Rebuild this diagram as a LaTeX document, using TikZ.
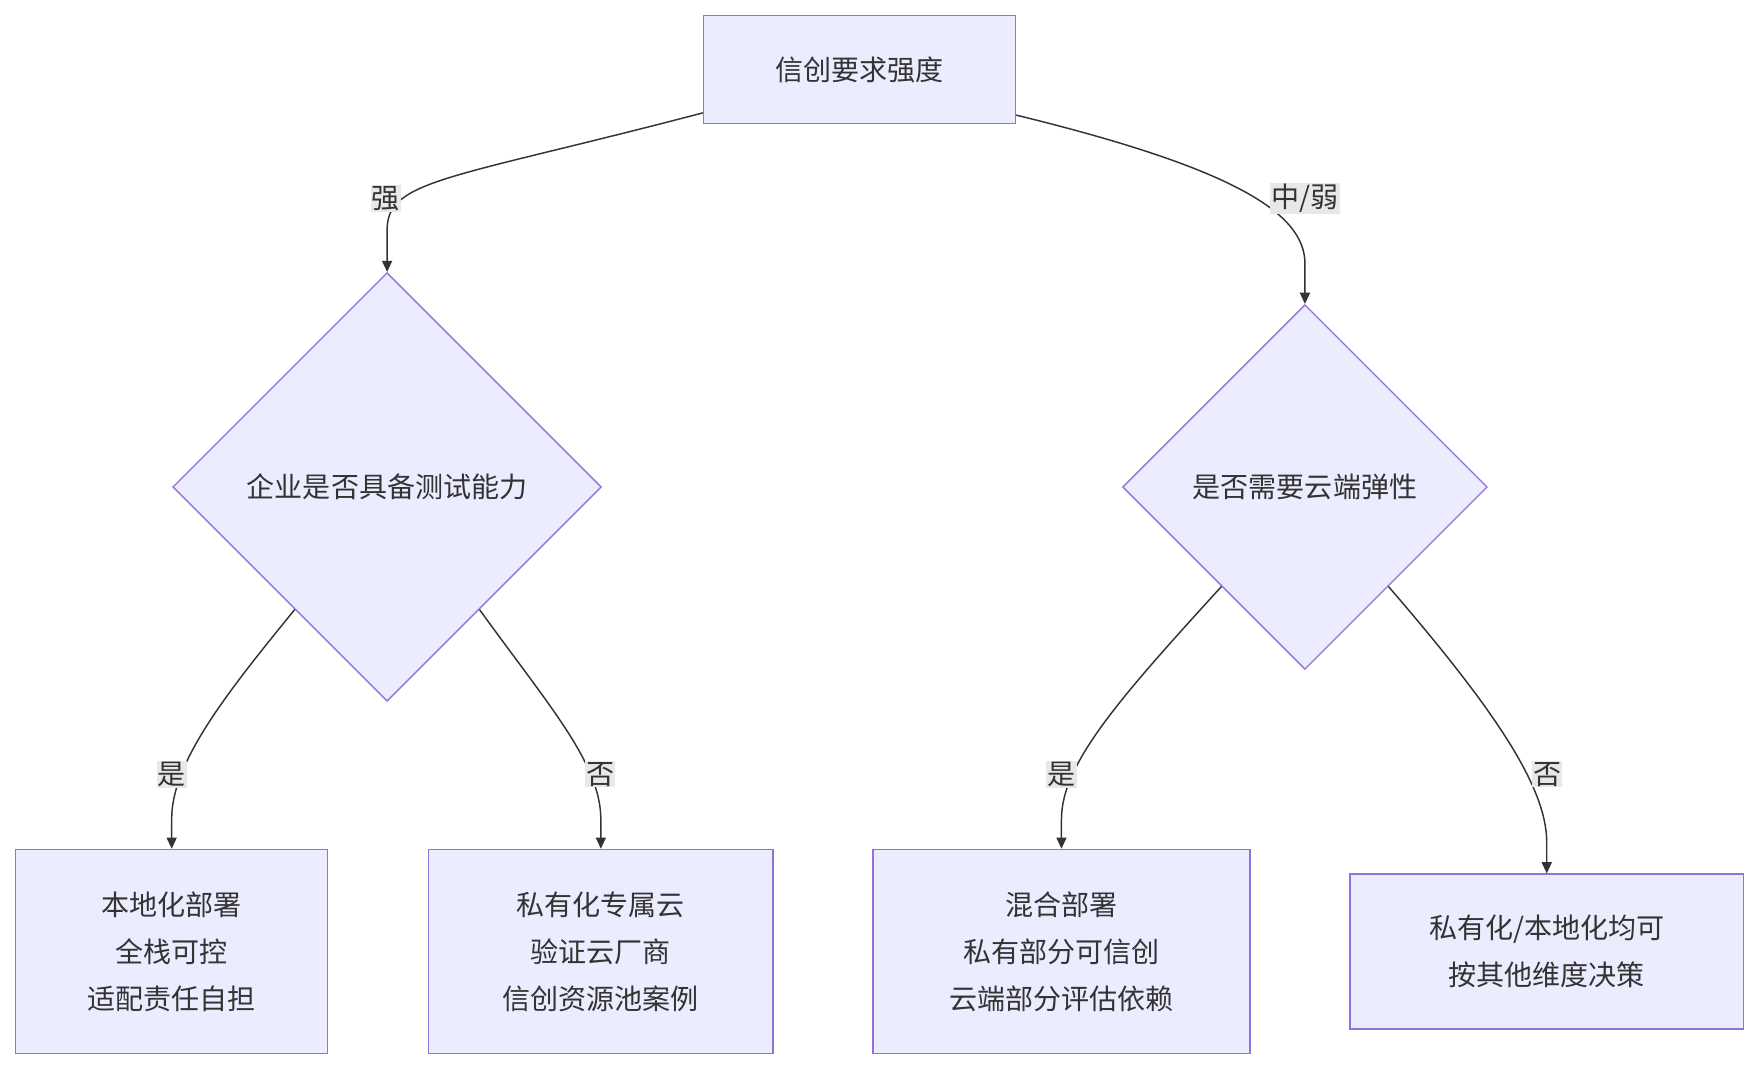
\documentclass[tikz,border=0pt]{standalone}
\usepackage{fontspec}
\setmainfont{Noto Sans CJK SC}
\usetikzlibrary{shapes.geometric,arrows.meta}
\definecolor{nodefill}{HTML}{ECECFF}
\definecolor{nodeline}{HTML}{9370DB}
\definecolor{edgeline}{HTML}{333333}
\definecolor{labelbg}{HTML}{E8E8E8}
\begin{document}
\begin{tikzpicture}[
    x=1pt, y=-1pt,
    every node/.style={font=\fontsize{25}{42}\selectfont, text=edgeline},
    box/.style={draw=nodeline, fill=nodefill, line width=1.2pt, rectangle, align=center, inner sep=0pt},
    choice/.style={draw=nodeline, fill=nodefill, line width=1.2pt, diamond, aspect=1, inner sep=0pt},
    edge/.style={draw=edgeline, line width=1.3pt, -{Triangle[length=10pt,width=9pt]}},
    tag/.style={fill=labelbg, inner sep=1pt},
]
\useasboundingbox (0,0) rectangle (1565,952);

% Nodes
\node[box, minimum width=278pt, minimum height=96pt] (top) at (766,62) {信创要求强度};
\node[choice, minimum width=382pt, minimum height=382pt] (testq) at (345,434) {企业是否具备测试能力};
\node[choice, minimum width=325pt, minimum height=325pt] (cloudq) at (1163,434) {是否需要云端弹性};
\node[box, minimum width=278pt, minimum height=182pt] (local) at (153,848) {本地化部署\\全栈可控\\适配责任自担};
\node[box, minimum width=307pt, minimum height=182pt] (priv) at (535.5,848) {私有化专属云\\验证云厂商\\信创资源池案例};
\node[box, minimum width=336pt, minimum height=182pt] (mixed) at (946,848) {混合部署\\私有部分可信创\\云端部分评估依赖};
\node[box, minimum width=351pt, minimum height=138pt] (either) at (1378.5,848) {私有化/本地化均可\\按其他维度决策};

% Connectors
\draw[edge] ([yshift=10pt]top.south west) .. controls (400,160) and (345,160) .. (345,205) -- (testq.north);
\draw[edge] ([yshift=8pt]top.south east) .. controls (1100,150) and (1163,190) .. (1163,235) -- (cloudq.north);
\draw[edge] (testq.-127) .. controls (200,620) and (153,680) .. (153,730) -- (local.north);
\draw[edge] (testq.-53) .. controls (490,630) and (535,680) .. (535.5,730) -- (priv.north);
\draw[edge] (cloudq.-130) .. controls (1000,620) and (946,680) .. (946,730) -- (mixed.north);
\draw[edge] (cloudq.-50) .. controls (1330,630) and (1378,700) .. (1378.5,750) -- (either.north);

% Labels
\node[tag] (lstrong) at (344,177) {强};
\node[tag] (lweak) at (1163,177) {中/弱};
\node[tag] (lyes1) at (153,690) {是};
\node[tag] (lno1) at (535,690) {否};
\node[tag] (lyes2) at (946,690) {是};
\node[tag] (lno2) at (1379,690) {否};
\end{tikzpicture}
\end{document}
